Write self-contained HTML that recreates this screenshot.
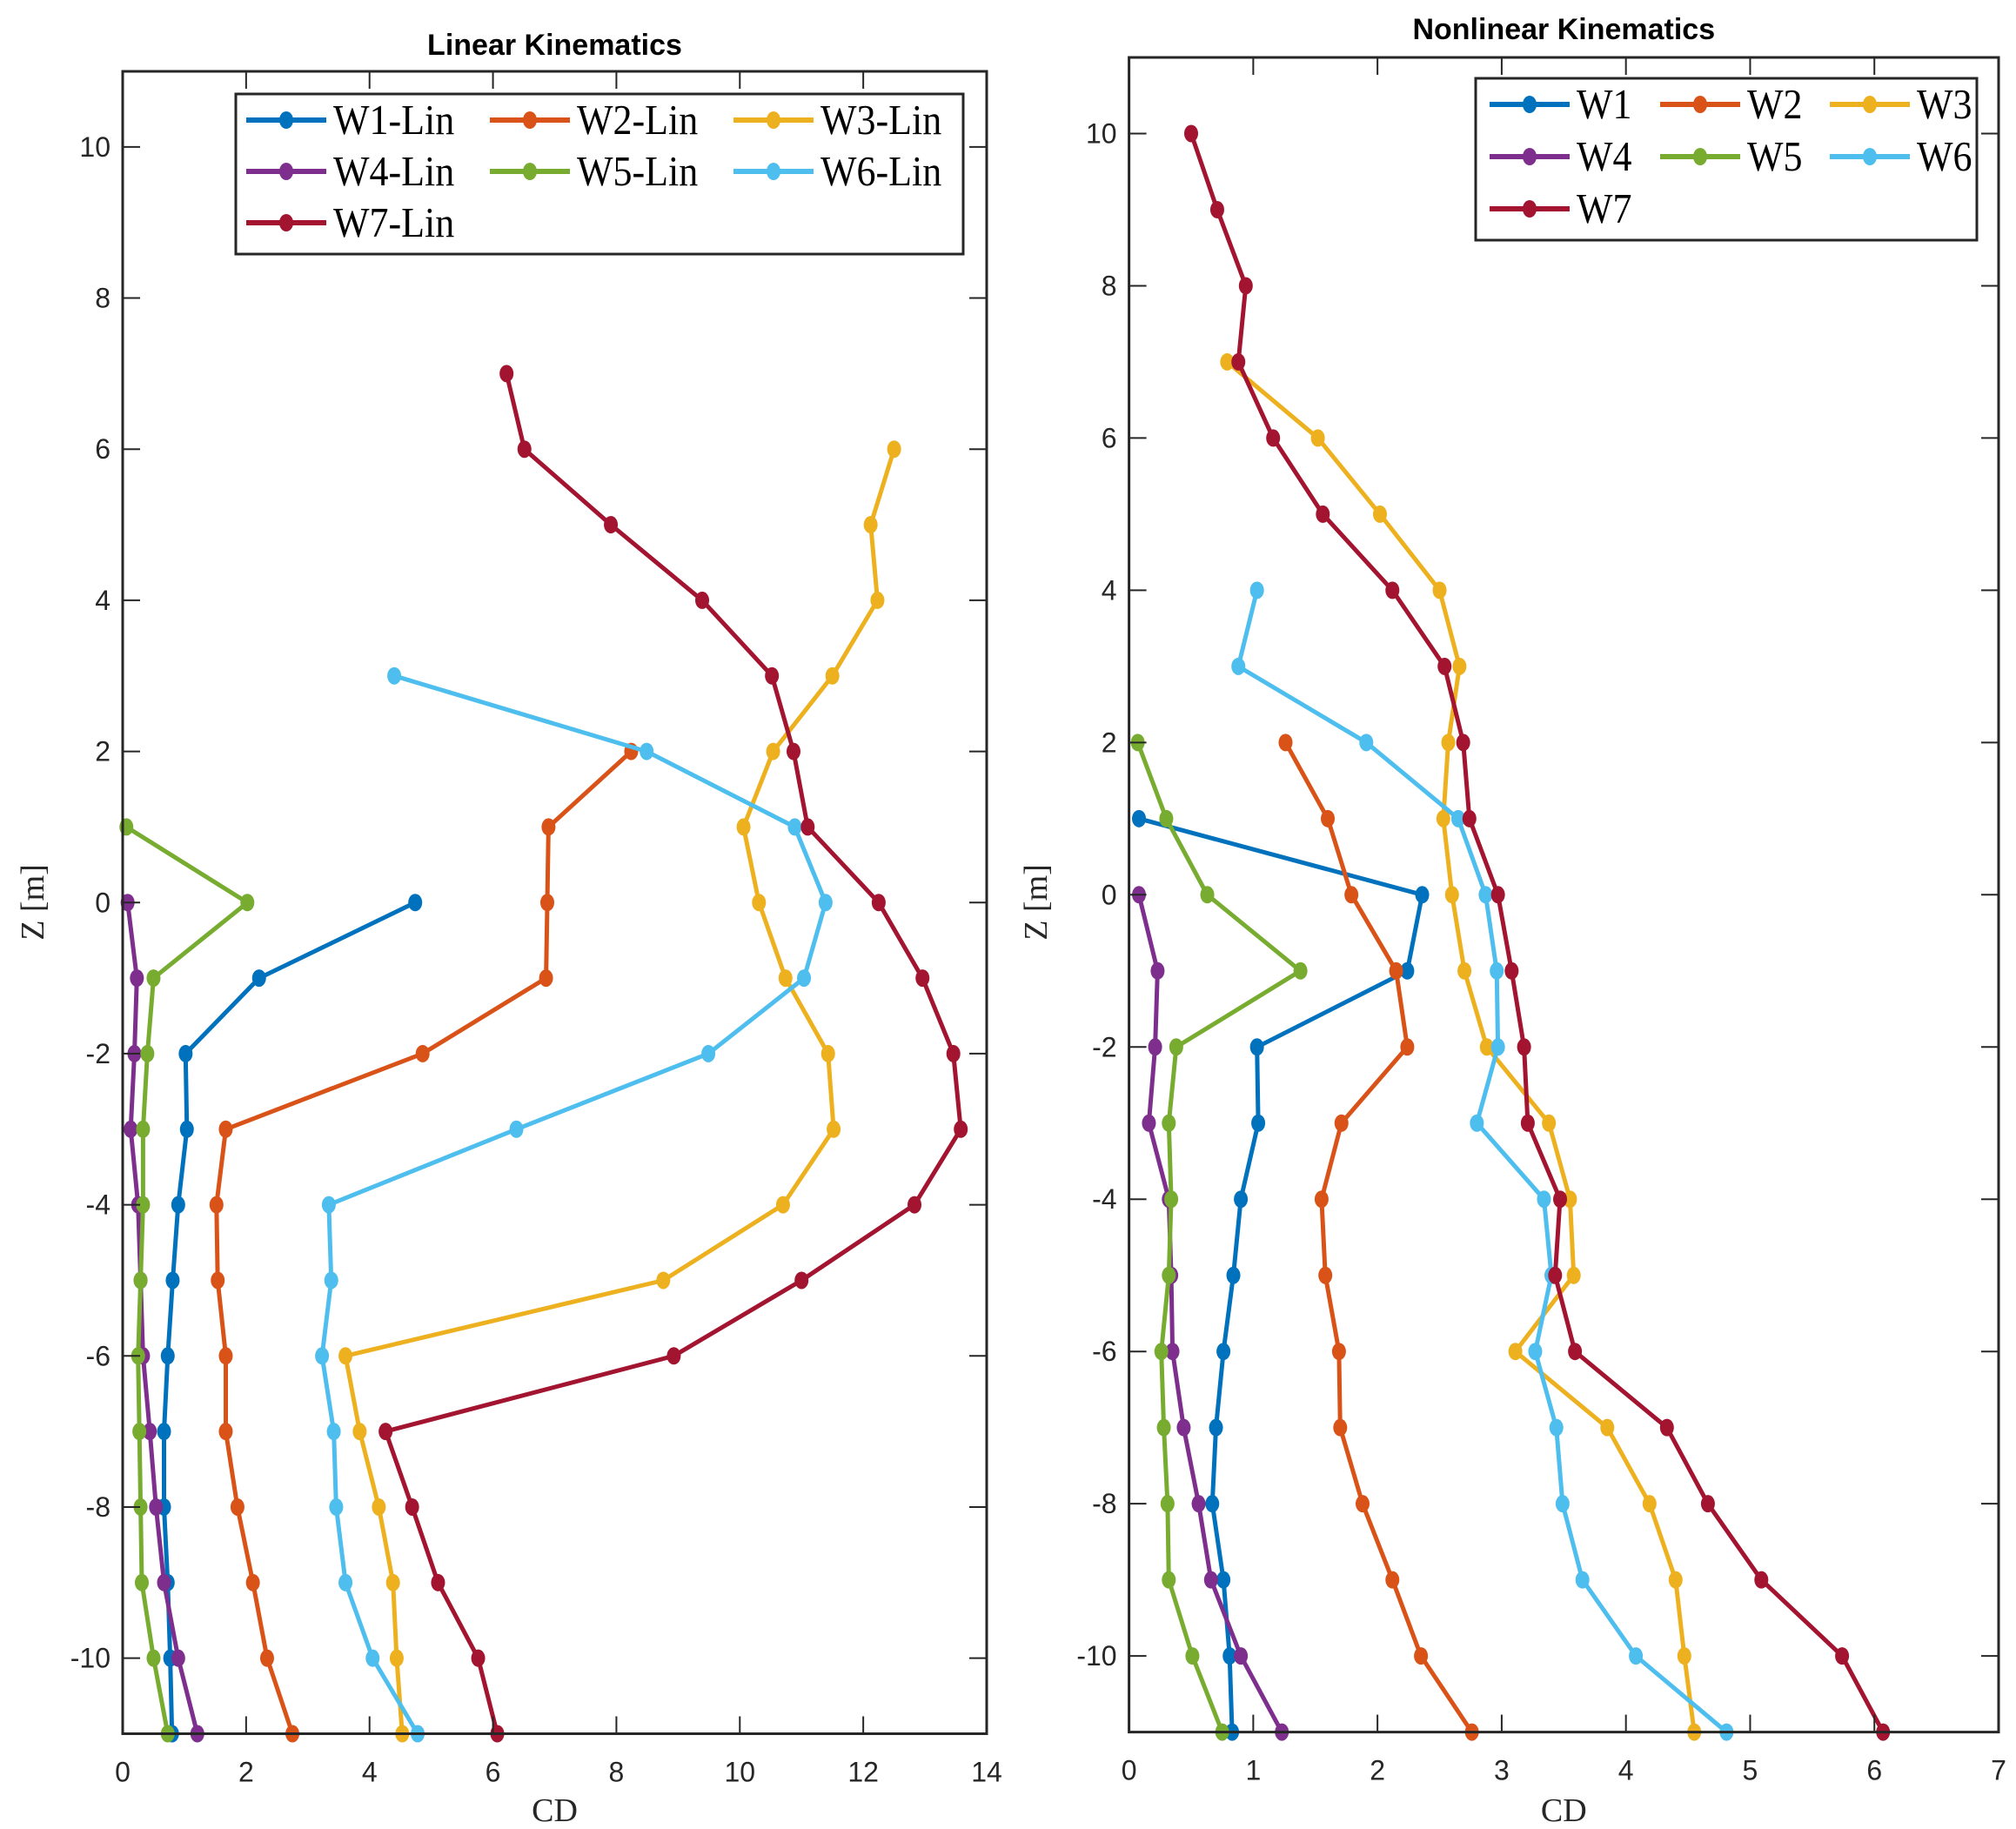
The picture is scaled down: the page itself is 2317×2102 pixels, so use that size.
<!DOCTYPE html>
<html><head><meta charset="utf-8"><style>
html,body{margin:0;padding:0;background:#fff}
svg{display:block}
</style></head><body>
<svg id="chart" width="2317" height="2102" viewBox="0 0 2317 2102" xmlns="http://www.w3.org/2000/svg"></svg>
<script>
const colors=["#0072BD","#D95319","#EDB120","#7E2F8E","#77AC30","#4DBEEE","#A2142F"];
// Linear kinematics: z levels and CD values
const linZ1=[0,-1,-2,-3,-4,-5,-6,-7,-8,-9,-10,-11];
const linW1=[4.74,2.21,1.02,1.04,0.9,0.81,0.73,0.67,0.67,0.73,0.77,0.8];
const linZ2=[2,1,0,-1,-2,-3,-4,-5,-6,-7,-8,-9,-10,-11];
const linW2=[8.24,6.9,6.88,6.86,4.86,1.67,1.52,1.54,1.67,1.67,1.86,2.11,2.34,2.75];
const linZ3=[6,5,4,3,2,1,0,-1,-2,-3,-4,-5,-6,-7,-8,-9,-10,-11];
const linW3=[12.5,12.12,12.23,11.5,10.54,10.06,10.31,10.74,11.43,11.52,10.7,8.76,3.61,3.84,4.15,4.38,4.44,4.53];
const linZ4=[0,-1,-2,-3,-4,-5,-6,-7,-8,-9,-10,-11];
const linW4=[0.08,0.23,0.19,0.13,0.25,0.29,0.33,0.44,0.54,0.67,0.9,1.21];
const linZ5=[1,0,-1,-2,-3,-4,-5,-6,-7,-8,-9,-10,-11];
const linW5=[0.06,2.02,0.5,0.4,0.33,0.33,0.29,0.25,0.27,0.29,0.31,0.5,0.73];
const linZ6=[3,2,1,0,-1,-2,-3,-4,-5,-6,-7,-8,-9,-10,-11];
const linW6=[4.4,8.49,10.89,11.39,11.04,9.49,6.38,3.34,3.38,3.23,3.42,3.46,3.61,4.05,4.78];
const linZ7=[7,6,5,4,3,2,1,0,-1,-2,-3,-4,-5,-6,-7,-8,-9,-10,-11];
const linW7=[6.22,6.51,7.91,9.39,10.52,10.87,11.1,12.25,12.96,13.46,13.58,12.83,11.0,8.93,4.26,4.69,5.11,5.76,6.07];
// Nonlinear kinematics
const nlZ1=[1,0,-1,-2,-3,-4,-5,-6,-7,-8,-9,-10,-11];
const nlW1=[0.08,2.36,2.24,1.03,1.04,0.9,0.84,0.76,0.7,0.67,0.76,0.81,0.83];
const nlZ2=[2,1,0,-1,-2,-3,-4,-5,-6,-7,-8,-9,-10,-11];
const nlW2=[1.26,1.6,1.79,2.15,2.24,1.71,1.55,1.58,1.69,1.7,1.88,2.12,2.35,2.76];
const nlZ3=[7,6,5,4,3,2,1,0,-1,-2,-3,-4,-5,-6,-7,-8,-9,-10,-11];
const nlW3=[0.79,1.52,2.02,2.5,2.66,2.57,2.53,2.6,2.7,2.88,3.38,3.55,3.58,3.11,3.85,4.19,4.4,4.47,4.55];
const nlZ4=[0,-1,-2,-3,-4,-5,-6,-7,-8,-9,-10,-11];
const nlW4=[0.08,0.23,0.21,0.16,0.32,0.34,0.35,0.44,0.56,0.66,0.9,1.23];
const nlZ5=[2,1,0,-1,-2,-3,-4,-5,-6,-7,-8,-9,-10,-11];
const nlW5=[0.07,0.3,0.63,1.38,0.38,0.32,0.34,0.32,0.26,0.28,0.31,0.32,0.51,0.75];
const nlZ6=[4,3,2,1,0,-1,-2,-3,-4,-5,-6,-7,-8,-9,-10,-11];
const nlW6=[1.03,0.88,1.91,2.65,2.87,2.96,2.97,2.8,3.34,3.4,3.27,3.44,3.49,3.65,4.08,4.81];
const nlZ7=[10,9,8,7,6,5,4,3,2,1,0,-1,-2,-3,-4,-5,-6,-7,-8,-9,-10,-11];
const nlW7=[0.5,0.71,0.94,0.88,1.16,1.56,2.12,2.54,2.69,2.74,2.97,3.08,3.18,3.21,3.47,3.43,3.59,4.33,4.66,5.09,5.74,6.07];
const linXTicks=[0,2,4,6,8,10,12,14];
const nlXTicks=[0,1,2,3,4,5,6,7];
const yTicks=[-10,-8,-6,-4,-2,0,2,4,6,8,10];
const linNames=["W1-Lin","W2-Lin","W3-Lin","W4-Lin","W5-Lin","W6-Lin","W7-Lin"];
const nlNames=["W1","W2","W3","W4","W5","W6","W7"];

const NS="http://www.w3.org/2000/svg";
const svg=document.getElementById('chart');
function mk(tag,attrs,parent){const e=document.createElementNS(NS,tag);for(const k in attrs)e.setAttribute(k,attrs[k]);(parent||svg).appendChild(e);return e;}

function panel(cfg){
  const g=mk('g',{});
  
  
  const sx=v=>cfg.x0+(v-cfg.xmin)/(cfg.xmax-cfg.xmin)*(cfg.x1-cfg.x0);
  const sy=v=>cfg.y1-(v+11)/22*(cfg.y1-cfg.y0);
  for(let s=0;s<7;s++){
    const sg=mk('g',{},g);
    
    
    const xs=cfg.vals[s],zs=cfg.zs[s];
    const pts=xs.map((v,i)=>sx(v).toFixed(1)+','+sy(zs[i]).toFixed(1)).join(' ');
    const pl=mk('polyline',{points:pts,fill:'none',stroke:colors[s],'stroke-width':5,'stroke-linejoin':'round'},sg);
    
    
    xs.forEach((v,i)=>{
      const c=mk('ellipse',{cx:sx(v),cy:sy(zs[i]),rx:8,ry:10,fill:colors[s]},sg);
      
      
    });
  }
  const box=mk('rect',{x:cfg.x0,y:cfg.y0,width:cfg.x1-cfg.x0,height:cfg.y1-cfg.y0,fill:'none',stroke:'#262626','stroke-width':3},g);
  
  
  cfg.xt.forEach(t=>{
    const x=sx(t);
    mk('line',{x1:x,x2:x,y1:cfg.y1,y2:cfg.y1-20,stroke:'#262626','stroke-width':2},g);
    mk('line',{x1:x,x2:x,y1:cfg.y0,y2:cfg.y0+20,stroke:'#262626','stroke-width':2},g);
    const tx=mk('text',{x:x,y:cfg.y1+55,'text-anchor':'middle','font-family':'Liberation Sans, sans-serif','font-size':32,fill:'#262626'},g);
    tx.textContent=t;
    
    
  });
  yTicks.forEach(t=>{
    const y=sy(t);
    mk('line',{x1:cfg.x0,x2:cfg.x0+20,y1:y,y2:y,stroke:'#262626','stroke-width':2},g);
    mk('line',{x1:cfg.x1,x2:cfg.x1-20,y1:y,y2:y,stroke:'#262626','stroke-width':2},g);
    const tx=mk('text',{x:cfg.x0-14,y:y+11,'text-anchor':'end','font-family':'Liberation Sans, sans-serif','font-size':32,fill:'#262626'},g);
    tx.textContent=t;
    
    
  });
  const cx=(cfg.x0+cfg.x1)/2;
  const ti=mk('text',{x:cx,y:cfg.titleY,'text-anchor':'middle','font-family':'Liberation Sans, sans-serif','font-weight':'bold','font-size':34,fill:'#000'},g);
  ti.textContent=cfg.title;
  
  
  const xl=mk('text',{x:cx,y:2093,'text-anchor':'middle','font-family':'Liberation Serif, serif','font-size':38,fill:'#262626'},g);
  xl.textContent='CD';
  
  
  const yl=mk('text',{x:0,y:0,'text-anchor':'middle','font-family':'Liberation Serif, serif','font-size':38,fill:'#262626',transform:`translate(${cfg.ylx},1037) rotate(-90)`},g);
  yl.textContent='Z [m]';
  
  
  const L=cfg.leg;
  const lg=mk('g',{},g);
  
  
  mk('rect',{x:L.x,y:L.y,width:L.w,height:L.h,fill:'#fff',stroke:'#262626','stroke-width':3},lg);
  cfg.names.forEach((n,i)=>{
    const col=i%3,row=Math.floor(i/3);
    const lx=L.cols[col],ly=L.rows[row];
    const e=mk('g',{},lg);
    
    
    mk('line',{x1:lx,x2:lx+92,y1:ly,y2:ly,stroke:colors[i],'stroke-width':6},e);
    mk('ellipse',{cx:lx+46,cy:ly,rx:8,ry:10,fill:colors[i]},e);
    const t=mk('text',{x:0,y:0,'font-family':'Liberation Serif, serif','font-size':44,fill:'#000',transform:`translate(${lx+100},${ly+16}) scale(1,1.1)`},e);
    t.textContent=n;
  });
}
panel({name:'linear-kinematics-plot',prefix:'linear',x0:141,x1:1134,y0:82,y1:1992.5,xmin:0,xmax:14,
  vals:[linW1,linW2,linW3,linW4,linW5,linW6,linW7],zs:[linZ1,linZ2,linZ3,linZ4,linZ5,linZ6,linZ7],
  xt:linXTicks,title:'Linear Kinematics',titleY:63,ylx:50,names:linNames,
  leg:{x:271,y:108,w:836,h:184,cols:[283,563,843],rows:[138,197,256]}});
panel({name:'nonlinear-kinematics-plot',prefix:'nonlinear',x0:1297.6,x1:2297,y0:66,y1:1990.6,xmin:0,xmax:7,
  vals:[nlW1,nlW2,nlW3,nlW4,nlW5,nlW6,nlW7],zs:[nlZ1,nlZ2,nlZ3,nlZ4,nlZ5,nlZ6,nlZ7],
  xt:nlXTicks,title:'Nonlinear Kinematics',titleY:45,ylx:1203,names:nlNames,
  leg:{x:1696,y:90,w:576,h:186,cols:[1712,1908,2103],rows:[120,180,240]}});
</script>
</body></html>
